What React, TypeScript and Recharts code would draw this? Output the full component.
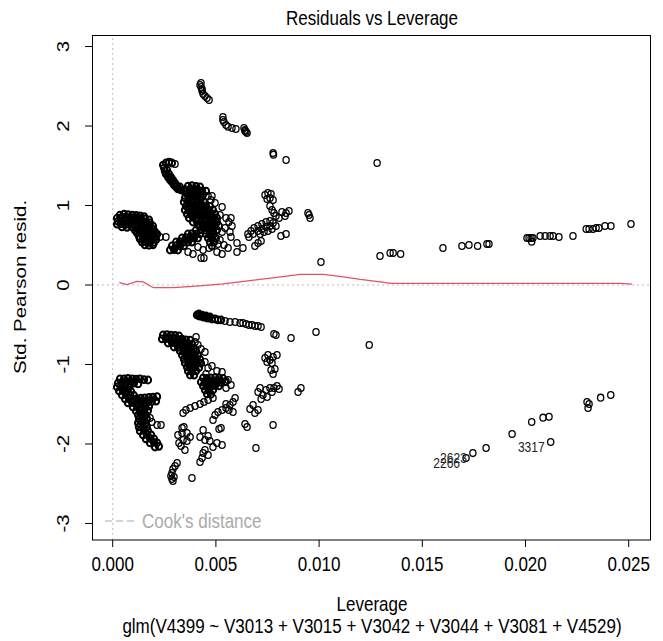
import React from 'react';
import { ScatterChart, Scatter, XAxis, YAxis, ReferenceLine } from 'recharts';

type P = [number, number];

const xTicks = [0, 0.005, 0.01, 0.015, 0.02, 0.025];
const yTicks = [-3, -2, -1, 0, 1, 2, 3];

const posLeft: P[] = [
  [0.00035,0.88],[0.00055,0.89],[0.00074,0.885],[0.00094,0.88],[0.00113,0.875],[0.00132,0.87],[0.00152,0.86],
  [0.00021,0.84],[0.0004,0.845],[0.0006,0.85],[0.00079,0.843],[0.00098,0.84],[0.00118,0.845],[0.00137,0.838],[0.00156,0.83],[0.00176,0.82],
  [0.00026,0.8],[0.00045,0.805],[0.00064,0.81],[0.00084,0.8],[0.00103,0.805],[0.00123,0.8],[0.00142,0.795],[0.00161,0.79],[0.00181,0.78],
  [0.00021,0.765],[0.0004,0.77],[0.0006,0.76],[0.00079,0.765],[0.00098,0.77],[0.00118,0.76],[0.00137,0.765],[0.00156,0.755],[0.00176,0.75],[0.00195,0.74],
  [0.00045,0.73],[0.00069,0.725],[0.00094,0.73],[0.00118,0.72],[0.00137,0.73],[0.00156,0.72],[0.00176,0.71],[0.00195,0.7],
  [0.00108,0.69],[0.00127,0.695],[0.00147,0.69],[0.00166,0.685],[0.00186,0.68],[0.00205,0.67],
  [0.00118,0.655],[0.00137,0.65],[0.00156,0.655],[0.00176,0.65],[0.00195,0.645],[0.00215,0.64],
  [0.00127,0.615],[0.00147,0.62],[0.00166,0.61],[0.00186,0.615],[0.00205,0.605],
  [0.00132,0.58],[0.00152,0.575],[0.00171,0.58],[0.0019,0.575],[0.0021,0.57],
  [0.00142,0.54],[0.00161,0.545],[0.00181,0.54],[0.002,0.535],
  [0.00156,0.505],[0.00176,0.5],[0.00195,0.505],
];

const posLeftTail: P[] = [[0.00229,0.604],[0.00258,0.604]];

const posTop: P[] = [
  [0.00428,2.541],[0.00423,2.516],[0.00428,2.49],[0.00433,2.465],[0.00433,2.44],[0.00438,2.403],[0.00447,2.378],[0.00457,2.352],[0.00467,2.327],
  [0.00534,2.113],[0.00534,2.075],[0.00539,2.05],[0.00549,2.013],[0.00559,1.99],[0.00578,1.975],[0.00597,1.962],[0.00636,1.975],[0.00641,1.95],[0.00641,1.937],[0.00646,1.925],[0.00651,1.912],
  [0.00777,1.66],[0.00779,1.64],[0.0084,1.572],[0.01281,1.535],[0.01009,0.289],
];

const posArc: P[] = [
  [0.00244,1.509],[0.00258,1.535],[0.00273,1.547],[0.00287,1.535],[0.00249,1.472],[0.00253,1.434],[0.00258,1.396],
  [0.00268,1.358],[0.00278,1.321],[0.00287,1.296],[0.00297,1.258],[0.00307,1.233],[0.00316,1.208],[0.00331,1.195],[0.00345,1.182],
  [0.00263,1.447],[0.00273,1.396],[0.00282,1.358],[0.00292,1.321],[0.00302,1.283],[0.00312,1.245],[0.00326,1.233],
];

const posArcEnd: P[] = [[0.00302,1.522]];

const posCenter: P[] = [
  [0.00365,1.245],[0.00384,1.25],[0.00404,1.24],[0.00423,1.235],
  [0.00355,1.195],[0.00375,1.2],[0.00394,1.19],[0.00413,1.195],[0.00433,1.185],[0.00452,1.18],
  [0.0036,1.145],[0.00379,1.15],[0.00399,1.14],[0.00418,1.145],[0.00438,1.14],
  [0.0035,1.094],[0.0037,1.1],[0.00389,1.09],[0.00408,1.094],[0.00428,1.09],
  [0.00345,1.044],[0.00365,1.05],[0.00384,1.04],[0.00404,1.044],[0.00423,1.04],[0.00442,1.044],
  [0.00355,0.994],[0.00375,1.0],[0.00394,0.99],[0.00413,0.994],[0.00433,0.99],[0.00452,0.994],[0.00471,0.99],
  [0.0035,0.943],[0.0037,0.95],[0.00389,0.94],[0.00408,0.943],[0.00428,0.94],[0.00447,0.943],[0.00467,0.94],[0.00486,0.943],
  [0.0036,0.893],[0.00379,0.9],[0.00399,0.89],[0.00418,0.893],[0.00438,0.89],[0.00457,0.893],[0.00476,0.89],[0.00496,0.893],
  [0.0037,0.843],[0.00389,0.85],[0.00408,0.84],[0.00428,0.843],[0.00447,0.84],[0.00467,0.843],[0.00486,0.84],[0.00505,0.843],
  [0.00389,0.792],[0.00408,0.8],[0.00428,0.79],[0.00447,0.792],[0.00467,0.79],[0.00486,0.792],[0.00505,0.79],
  [0.00418,0.742],[0.00438,0.745],[0.00457,0.74],[0.00476,0.742],[0.00496,0.74],[0.00515,0.742],
  [0.00404,0.692],[0.00428,0.695],[0.00447,0.69],[0.00467,0.692],[0.00486,0.69],[0.00505,0.692],
  [0.00365,0.642],[0.00384,0.645],[0.00404,0.64],[0.00423,0.642],[0.00452,0.642],[0.00471,0.64],[0.00491,0.642],
  [0.00336,0.591],[0.00355,0.595],[0.00375,0.59],[0.00394,0.591],[0.00413,0.59],[0.00462,0.591],[0.00481,0.59],[0.005,0.591],
  [0.00307,0.541],[0.00326,0.545],[0.00345,0.54],[0.00365,0.541],[0.00384,0.54],[0.00471,0.541],[0.00491,0.54],
  [0.00287,0.491],[0.00307,0.495],[0.00326,0.49],[0.00345,0.491],[0.00481,0.49],
  [0.00278,0.44],[0.00297,0.445],[0.00316,0.44],
];

const posHollow: P[] = [
  [0.00462,1.119],[0.00481,1.119],
  [0.00476,1.069],[0.00496,1.031],[0.0053,0.981],[0.0052,0.881],[0.00549,0.843],[0.00563,0.792],[0.00544,0.717],[0.0053,0.667],
  [0.00568,0.667],[0.0052,0.566],[0.00539,0.503],[0.00559,0.465],[0.00505,0.415],[0.0053,0.39],[0.00365,0.415],[0.00389,0.39],
  [0.00428,0.34],[0.00442,0.34],[0.0051,0.516],[0.00602,0.528],[0.00631,0.465],[0.00602,0.415],[0.00573,0.843],[0.00578,0.742],
  [0.00573,0.604],[0.00413,0.478],[0.00438,0.44],[0.00467,0.465],
];

const posRight: P[] = [
  [0.00738,1.132],[0.00752,1.157],[0.00767,1.145],[0.00762,1.094],[0.00748,1.082],[0.00777,1.069],
  [0.00762,0.994],[0.00772,0.943],[0.00781,0.906],[0.00791,0.868],
  [0.0082,0.918],[0.0084,0.906],[0.00854,0.931],[0.00835,0.868],[0.00806,0.843],
  [0.00655,0.642],[0.0067,0.679],[0.00685,0.717],[0.00704,0.742],[0.00723,0.767],[0.00743,0.792],[0.00762,0.805],[0.00777,0.78],
  [0.0066,0.604],[0.0068,0.642],[0.00704,0.679],[0.00723,0.704],[0.00743,0.73],[0.00762,0.742],[0.00714,0.642],[0.00733,0.667],
  [0.00752,0.679],[0.00772,0.704],[0.00791,0.742],
  [0.00689,0.491],[0.00704,0.528],[0.00719,0.553],
  [0.00815,0.616],[0.0084,0.642],
  [0.00946,0.906],[0.00956,0.843],[0.00951,0.881],
];

const posFar: P[] = [
  [0.01295,0.365],[0.01344,0.403],[0.01359,0.403],[0.01395,0.39],[0.016,0.465],[0.01692,0.491],[0.01726,0.503],[0.01768,0.491],
  [0.01813,0.516],[0.01823,0.516],[0.02007,0.591],[0.02017,0.591],[0.02027,0.591],[0.02036,0.591],[0.0203,0.545],[0.02071,0.616],
  [0.02095,0.616],[0.02119,0.616],[0.02134,0.616],[0.02162,0.604],[0.0223,0.616],[0.02294,0.704],[0.02308,0.704],[0.02327,0.704],
  [0.02342,0.717],[0.02356,0.717],[0.02385,0.742],[0.02414,0.742],[0.02511,0.767],
];

const negTopDense: P[] = [
  [0.00408,-0.377],[0.00418,-0.39],[0.00428,-0.39],[0.00438,-0.403],[0.00447,-0.403],[0.00457,-0.415],[0.00467,-0.415],[0.00481,-0.428],
  [0.00496,-0.428],[0.0051,-0.44],[0.00525,-0.44],[0.00418,-0.365],[0.00433,-0.378],[0.00452,-0.39],[0.00471,-0.4],
];

const negTop: P[] = [
  [0.00544,-0.453],[0.00568,-0.465],[0.00593,-0.465],[0.00617,-0.478],[0.00631,-0.478],
  [0.00646,-0.491],[0.0066,-0.503],[0.00675,-0.503],[0.00689,-0.516],[0.00704,-0.516],[0.00719,-0.528],
  [0.00781,-0.616],[0.00791,-0.629],[0.00864,-0.667],[0.00985,-0.591],[0.01243,-0.755],
];

const negMid: P[] = [
  [0.00244,-0.629],[0.00263,-0.625],[0.00282,-0.63],[0.00302,-0.635],[0.00321,-0.64],
  [0.00239,-0.679],[0.00258,-0.675],[0.00278,-0.68],[0.00297,-0.679],[0.00316,-0.685],[0.00336,-0.68],[0.00355,-0.69],[0.00375,-0.695],
  [0.00268,-0.73],[0.00287,-0.725],[0.00307,-0.73],[0.00326,-0.735],[0.00345,-0.73],[0.00365,-0.74],[0.00384,-0.745],
  [0.00297,-0.78],[0.00316,-0.785],[0.00336,-0.78],[0.00355,-0.79],[0.00375,-0.785],[0.00394,-0.795],
  [0.00326,-0.83],[0.00345,-0.835],[0.00365,-0.83],[0.00384,-0.84],[0.00404,-0.835],
  [0.00336,-0.881],[0.00355,-0.885],[0.00375,-0.88],[0.00394,-0.89],[0.00413,-0.885],
  [0.00345,-0.931],[0.00365,-0.935],[0.00384,-0.93],[0.00404,-0.94],[0.00423,-0.935],
  [0.0035,-0.981],[0.0037,-0.985],[0.00389,-0.98],[0.00408,-0.99],[0.00428,-0.985],
  [0.0036,-1.031],[0.00379,-1.035],[0.00399,-1.03],[0.00418,-1.04],
  [0.00365,-1.082],[0.00384,-1.085],[0.00404,-1.08],
  [0.00375,-1.132],[0.00394,-1.135],
  [0.00438,-1.17],[0.00457,-1.175],[0.00476,-1.17],[0.00496,-1.165],[0.00515,-1.17],[0.00534,-1.175],
  [0.00428,-1.22],[0.00447,-1.225],[0.00467,-1.22],[0.00486,-1.215],[0.00505,-1.22],[0.00525,-1.225],[0.00544,-1.22],
  [0.00438,-1.27],[0.00457,-1.275],[0.00476,-1.27],[0.00496,-1.265],[0.00515,-1.27],
  [0.00447,-1.321],[0.00467,-1.325],[0.00486,-1.32],
  [0.00457,-1.371],[0.00476,-1.375],
];

const negMidHollow: P[] = [
  [0.00399,-0.717],[0.00413,-0.755],[0.00428,-0.805],[0.00447,-0.843],[0.00404,-0.654],
  [0.00447,-0.969],[0.00462,-1.044],[0.00481,-1.019],[0.00505,-1.082],[0.00452,-1.119],[0.0053,-1.094],
  [0.00559,-1.195],[0.00573,-1.258],[0.00549,-1.296],
];

const negChains: P[] = [
  [0.00341,-1.61],[0.00355,-1.572],[0.00375,-1.547],[0.00399,-1.522],[0.00423,-1.497],[0.00442,-1.472],[0.00462,-1.447],[0.00486,-1.421],
  [0.00486,-1.698],[0.00496,-1.635],[0.0051,-1.597],[0.0053,-1.572],[0.00549,-1.547],[0.00568,-1.509],[0.00583,-1.472],[0.00593,-1.421],
  [0.00525,-1.799],[0.00336,-1.799],
];

const negLeft: P[] = [
  [0.00035,-1.182],[0.00055,-1.18],[0.00074,-1.175],[0.00094,-1.18],[0.00113,-1.185],[0.00132,-1.18],[0.00152,-1.19],[0.00171,-1.195],
  [0.00026,-1.233],[0.00045,-1.23],[0.00064,-1.235],[0.00084,-1.24],[0.00103,-1.235],[0.00123,-1.245],
  [0.00021,-1.283],[0.0004,-1.28],[0.0006,-1.285],[0.00079,-1.29],
  [0.00031,-1.333],[0.0005,-1.33],[0.00069,-1.335],[0.00089,-1.34],
  [0.00045,-1.384],[0.00064,-1.38],[0.00084,-1.385],[0.00103,-1.39],
  [0.0006,-1.434],[0.00079,-1.43],[0.00098,-1.435],[0.00118,-1.43],[0.00137,-1.425],[0.00156,-1.42],[0.00176,-1.415],[0.00195,-1.41],[0.00215,-1.405],
  [0.00074,-1.484],[0.00094,-1.48],[0.00113,-1.485],[0.00132,-1.48],[0.00152,-1.475],[0.00171,-1.47],[0.0019,-1.465],[0.0021,-1.46],
  [0.00098,-1.535],[0.00118,-1.53],[0.00137,-1.535],[0.00156,-1.53],[0.00176,-1.525],
  [0.00113,-1.585],[0.00132,-1.58],[0.00152,-1.585],[0.00171,-1.58],
  [0.00123,-1.635],[0.00142,-1.63],[0.00161,-1.635],
  [0.00127,-1.686],[0.00147,-1.68],[0.00166,-1.685],
  [0.00123,-1.736],[0.00142,-1.73],[0.00161,-1.735],
  [0.00127,-1.786],[0.00147,-1.78],[0.00166,-1.785],
  [0.00132,-1.836],[0.00152,-1.83],[0.00171,-1.835],
  [0.00147,-1.887],[0.00166,-1.88],[0.00186,-1.885],
  [0.00161,-1.937],[0.00181,-1.93],[0.002,-1.935],
  [0.00181,-1.987],[0.002,-1.98],[0.00215,-1.985],
  [0.00205,-2.038],[0.00224,-2.03],
];

const negLeftHollow: P[] = [[0.0019,-1.723],[0.00215,-1.761],[0.00234,-1.761],[0.00181,-1.673]];

const negLow: P[] = [
  [0.00345,-1.786],[0.00316,-1.887],[0.00336,-1.862],[0.0036,-1.862],[0.00375,-1.912],[0.00341,-1.95],[0.0036,-1.962],[0.00331,-2.025],
  [0.0035,-2.075],[0.00321,-1.987],
  [0.00438,-1.824],[0.00423,-1.912],[0.00447,-1.95],[0.00471,-1.962],[0.00462,-1.899],[0.00505,-1.987],[0.00486,-2.038],[0.00447,-2.075],
  [0.00462,-2.138],[0.00433,-2.176],[0.00423,-2.226],[0.00438,-2.113],[0.0053,-2.013],[0.00515,-1.812],
  [0.00312,-2.239],[0.00302,-2.277],[0.00292,-2.314],[0.00287,-2.365],[0.00282,-2.403],[0.00287,-2.44],[0.00292,-2.465],[0.00297,-2.415],
  [0.00384,-2.428],
  [0.00641,-1.748],[0.00651,-1.786],[0.00694,-2.05],[0.00777,-1.761],
];

const negRightMid: P[] = [
  [0.00738,-0.918],[0.00752,-0.881],[0.00762,-0.943],[0.00777,-0.906],[0.00796,-0.881],[0.00772,-0.981],[0.00748,-0.969],
  [0.00767,-1.069],[0.00786,-1.057],[0.00777,-1.119],
  [0.00704,-1.346],[0.00714,-1.296],[0.00728,-1.384],[0.00743,-1.321],[0.00748,-1.409],[0.00762,-1.296],[0.00781,-1.296],[0.00796,-1.27],
  [0.00806,-1.308],[0.00772,-1.346],[0.00719,-1.434],
  [0.00898,-1.346],[0.00912,-1.296],
  [0.00665,-1.56],[0.0068,-1.509],[0.00689,-1.61],[0.00704,-1.572],
  [0.00549,-1.208],[0.00549,-1.497],[0.00563,-1.572],[0.00583,-1.597],
];

const negFar: P[] = [
  [0.01809,-2.05],[0.01935,-1.874],[0.0203,-1.723],[0.02085,-1.669],[0.02114,-1.657],[0.02298,-1.472],[0.02303,-1.547],[0.02308,-1.497],
  [0.02364,-1.417],[0.02413,-1.384],
];

const labeledLev = [0.01712, 0.01745, 0.02122];
const labeledRes = [-2.176, -2.115, -1.975];
const labeledIds = ['2266', '2623', '3317'];

const smooth: P[] = [
  [0.00032,0.029],[0.00068,0.004],[0.001,0.03],[0.00116,0.046],[0.00148,0.038],[0.00197,-0.034],[0.00294,-0.034],[0.00407,-0.013],
  [0.00534,0.013],[0.00665,0.054],[0.00795,0.097],[0.00907,0.134],[0.0102,0.134],[0.011,0.109],[0.012,0.07],[0.01295,0.04],
  [0.0135,0.02],[0.02458,0.02],[0.02516,0.01],
];

const FONT = '"Liberation Sans", Arial, sans-serif';
const SX = 0.83;
const FS = 20.5;

const toXY = (arr: P[]) => arr.map(([x, y]) => ({ x, y }));

const densePoints = toXY([...posLeft, ...posArc, ...posCenter, ...negTopDense, ...negMid, ...negLeft]);
const sparsePoints = toXY([
  ...posLeftTail, ...posArcEnd, ...posTop, ...posHollow, ...posRight, ...posFar,
  ...negTop, ...negMidHollow, ...negChains, ...negLeftHollow, ...negLow, ...negRightMid, ...negFar,
]);

const labeled = labeledLev.map((x, i) => ({ x, y: labeledRes[i], id: labeledIds[i] }));
const smoothData = toXY(smooth);

const DenseRing = (props: any) => (
  <ellipse cx={props.cx} cy={props.cy} rx={3.1} ry={3.4} fill="none" stroke="#000" strokeWidth={2.0} />
);

const Ring = (props: any) => (
  <ellipse cx={props.cx} cy={props.cy} rx={3.1} ry={3.4} fill="none" stroke="#000" strokeWidth={1.3} />
);

const HText = ({ x, y, size = FS, anchor = 'middle', color = '#000', children }: any) => (
  <text transform={`translate(${x} ${y}) scale(${SX} 1)`} x={0} y={0} textAnchor={anchor} dominantBaseline="central"
    fontSize={size} fontFamily={FONT} fill={color}>{children}</text>
);

const VText = ({ x, y, size = FS, children }: any) => (
  <text transform={`translate(${x} ${y}) scale(${SX} 1) rotate(-90)`} x={0} y={0} textAnchor="middle" dominantBaseline="central"
    fontSize={size} fontFamily={FONT} fill="#000">{children}</text>
);

const LabeledRing = (props: any) => (
  <g>
    <ellipse cx={props.cx} cy={props.cy} rx={3.1} ry={3.4} fill="none" stroke="#000" strokeWidth={1.3} />
    <HText x={props.cx - 6} y={props.cy + 5} size={14.5} anchor="end" color="#222">{props.payload.id}</HText>
  </g>
);

const XTick = (props: any) => {
  const { x, payload } = props;
  return (
    <g>
      <line x1={x} x2={x} y1={540} y2={547} stroke="#000" strokeWidth={1} />
      <HText x={x} y={564}>{Number(payload.value).toFixed(3)}</HText>
    </g>
  );
};

const YTick = (props: any) => {
  const { y, payload } = props;
  return (
    <g>
      <line x1={85} x2={92} y1={y} y2={y} stroke="#000" strokeWidth={1} />
      <VText x={63} y={y}>{String(payload.value)}</VText>
    </g>
  );
};

export default function App() {
  return (
    <div style={{ position: 'absolute', left: 0, top: 0, width: 663, height: 641, background: '#fff' }}>
      <ScatterChart width={663} height={641} margin={{ top: 35, right: 12, bottom: 0, left: 0 }} style={{ fontFamily: FONT }}>
        <XAxis type="number" dataKey="x" domain={[-0.001003, 0.02608]} ticks={xTicks} allowDataOverflow height={101}
          axisLine={false} tickLine={false} interval={0} tick={(p: any) => <XTick {...p} />} />
        <YAxis type="number" dataKey="y" domain={[-3.208, 3.145]} ticks={yTicks} allowDataOverflow width={92}
          axisLine={false} tickLine={false} interval={0} tick={(p: any) => <YTick {...p} />} />
        <Scatter data={densePoints} shape={DenseRing} isAnimationActive={false} />
        <Scatter data={sparsePoints} shape={Ring} isAnimationActive={false} />
        <Scatter data={labeled} shape={LabeledRing} isAnimationActive={false} />
        <Scatter data={smoothData} line={{ stroke: '#DF536B', strokeWidth: 1.3 }} lineType="joint" shape={() => <g />} isAnimationActive={false} />
        <ReferenceLine y={0} stroke="#BEBEBE" strokeDasharray="2 3" />
        <ReferenceLine x={0} stroke="#BEBEBE" strokeDasharray="2 3" />
      </ScatterChart>
      <svg width={663} height={641} style={{ position: 'absolute', left: 0, top: 0, pointerEvents: 'none' }}>
        <rect x={92.5} y={35.5} width={558} height={504.5} fill="none" stroke="#000" strokeWidth={1} />
        <HText x={372} y={18}>Residuals vs Leverage</HText>
        <HText x={372} y={604}>Leverage</HText>
        <HText x={372} y={626}>glm(V4399 ~ V3013 + V3015 + V3042 + V3044 + V3081 + V4529)</HText>
        <VText x={20} y={287}>Std. Pearson resid.</VText>
        <line x1={105} x2={138} y1={521} y2={521} stroke="#AAAAAA" strokeDasharray="7 4" strokeWidth={1} />
        <HText x={142} y={521} anchor="start" color="#AAAAAA">Cook's distance</HText>
      </svg>
    </div>
  );
}
